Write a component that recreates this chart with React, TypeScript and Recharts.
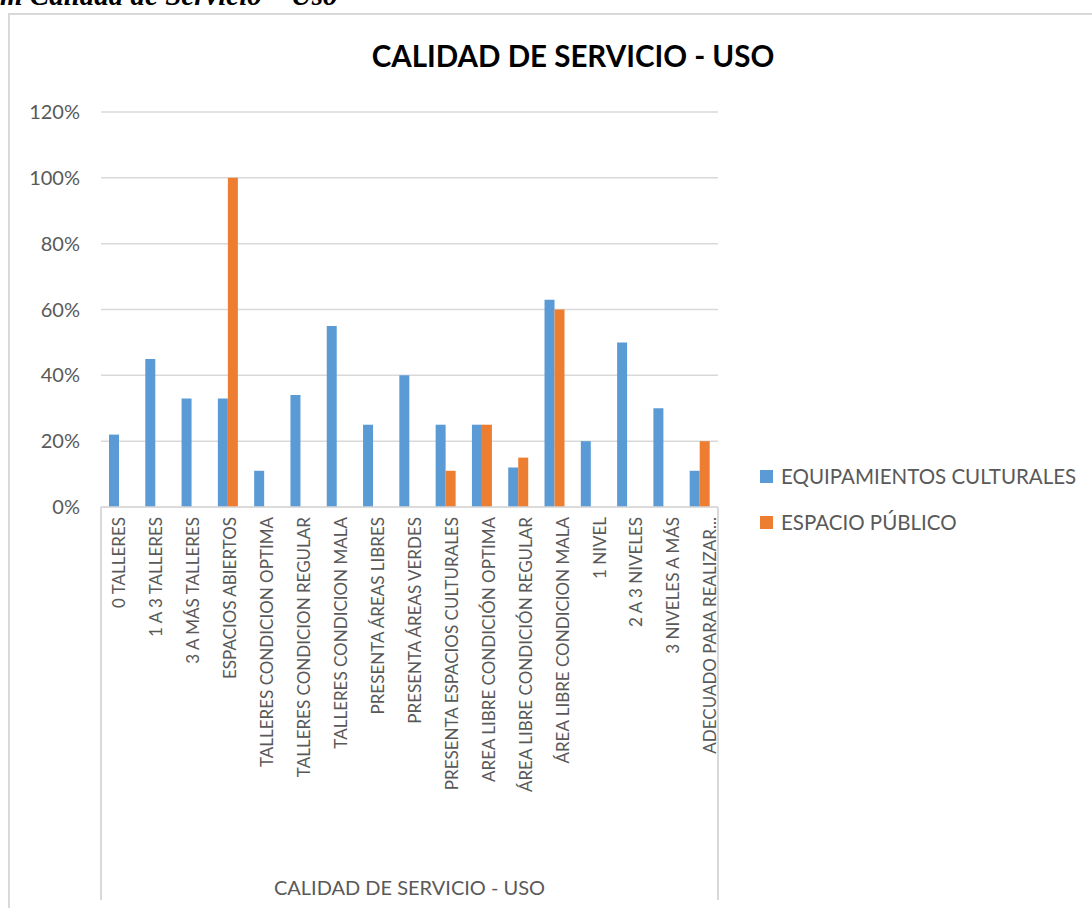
import { BarChart, Bar, XAxis, YAxis, CartesianGrid, Legend } from "recharts";

const categories = [
  "0 TALLERES",
  "1 A 3 TALLERES",
  "3  A MÁS TALLERES",
  "ESPACIOS ABIERTOS",
  "TALLERES CONDICION OPTIMA",
  "TALLERES CONDICION REGULAR",
  "TALLERES CONDICION MALA",
  "PRESENTA ÁREAS LIBRES",
  "PRESENTA ÁREAS VERDES",
  "PRESENTA ESPACIOS CULTURALES",
  "AREA LIBRE CONDICIÓN OPTIMA",
  "ÁREA LIBRE CONDICIÓN REGULAR",
  "ÁREA LIBRE CONDICION MALA",
  "1 NIVEL",
  "2 A 3 NIVELES",
  "3 NIVELES A MÁS",
  "ADECUADO PARA REALIZAR...",
];

const equipamientos = [
  0.22, 0.45, 0.33, 0.33, 0.11, 0.34, 0.55, 0.25, 0.4, 0.25, 0.25, 0.12, 0.63, 0.2, 0.5,
  0.3, 0.11,
];

const espacioPublico = [
  null, null, null, 1.0, null, null, null, null, null, 0.11, 0.25, 0.15, 0.6, null, null,
  null, 0.2,
];

const yTicks = [0, 0.2, 0.4, 0.6, 0.8, 1.0, 1.2];

const SERIES = [
  { key: "equip", name: "EQUIPAMIENTOS CULTURALES", color: "#5b9bd5" },
  { key: "espacio", name: "ESPACIO PÚBLICO", color: "#ed7d31" },
];

const data = categories.map((name, i) => ({
  name,
  equip: equipamientos[i],
  espacio: espacioPublico[i],
}));

const GRAY = "#595959";
const LINE = "#d9d9d9";

// excel spreads the rotated labels a little wider than the bars
function CategoryTick({ x, y, payload, index }: any) {
  const tx = x + (index || 0) * 0.65;
  return (
    <text
      x={tx}
      y={y}
      transform={`rotate(-90, ${tx}, ${y})`}
      textAnchor="end"
      dy="0.36em"
      fill={GRAY}
      fontSize={17}
      fontFamily="Lato"
    >
      {payload.value}
    </text>
  );
}

function LegendBox({ payload }: any) {
  return (
    <div>
      {(payload || []).map((entry: any) => (
        <div
          key={entry.value}
          style={{ display: "flex", alignItems: "center", height: 46, fontSize: 20.5, color: GRAY }}
        >
          <span
            style={{
              display: "inline-block",
              width: 13,
              height: 13,
              background: entry.color,
              marginRight: 8,
            }}
          />
          {entry.value}
        </div>
      ))}
    </div>
  );
}

export default function App() {
  return (
    <div
      style={{
        position: "absolute",
        left: 0,
        top: 0,
        width: 1092,
        height: 908,
        overflow: "hidden",
        background: "#fff",
        fontFamily: "Lato",
      }}
    >
      <div
        style={{
          position: "absolute",
          left: 0,
          top: -19,
          fontFamily: "Liberation Serif",
          fontStyle: "italic",
          fontWeight: "bold",
          fontSize: 29,
          lineHeight: "29px",
          whiteSpace: "nowrap",
        }}
      >
        m Calidad de Servicio – Uso
      </div>
      <div
        style={{
          position: "absolute",
          left: 8,
          top: 13,
          width: 1120,
          height: 940,
          border: `2px solid ${LINE}`,
        }}
      />
      <div
        style={{
          position: "absolute",
          left: 273,
          width: 600,
          top: 39,
          textAlign: "center",
          fontSize: 29.5,
          lineHeight: "34px",
          fontWeight: "bold",
          color: "#000",
        }}
      >
        CALIDAD DE SERVICIO - USO
      </div>
      <div style={{ position: "absolute", left: 100, top: 507, width: 2, height: 393, background: LINE }} />
      <div style={{ position: "absolute", left: 717, top: 507, width: 2, height: 393, background: LINE }} />
      <div style={{ position: "absolute", left: 0, top: 0 }}>
        <BarChart
          width={1092}
          height={908}
          data={data}
          margin={{ top: 112, right: 374, left: 0, bottom: 8 }}
          barGap={0}
          barCategoryGap="22%"
        >
          <CartesianGrid vertical={false} stroke={LINE} strokeWidth={1.5} />
          <XAxis
            dataKey="name"
            interval={0}
            height={393}
            tick={<CategoryTick />}
            tickLine={false}
            tickSize={0}
            tickMargin={10}
            axisLine={{ stroke: LINE, strokeWidth: 1.5 }}
            label={{
              value: "CALIDAD DE SERVICIO - USO",
              position: "insideBottom",
              offset: 5,
              fill: GRAY,
              fontSize: 20,
              fontFamily: "Lato",
            }}
          />
          <YAxis
            width={101}
            domain={[0, 1.2]}
            ticks={yTicks}
            tickFormatter={(v) => `${Math.round(v * 100)}%`}
            axisLine={false}
            tickLine={false}
            tickSize={0}
            tickMargin={21}
            tick={{ fill: GRAY, fontSize: 20, fontFamily: "Lato" }}
          />
          <Legend
            layout="horizontal"
            verticalAlign="middle"
            align="center"
            content={<LegendBox />}
            wrapperStyle={{ position: "absolute", left: 760, top: 453, width: 332 }}
          />
          {SERIES.map((s) => (
            <Bar key={s.key} dataKey={s.key} name={s.name} fill={s.color} isAnimationActive={false} />
          ))}
        </BarChart>
      </div>
    </div>
  );
}
